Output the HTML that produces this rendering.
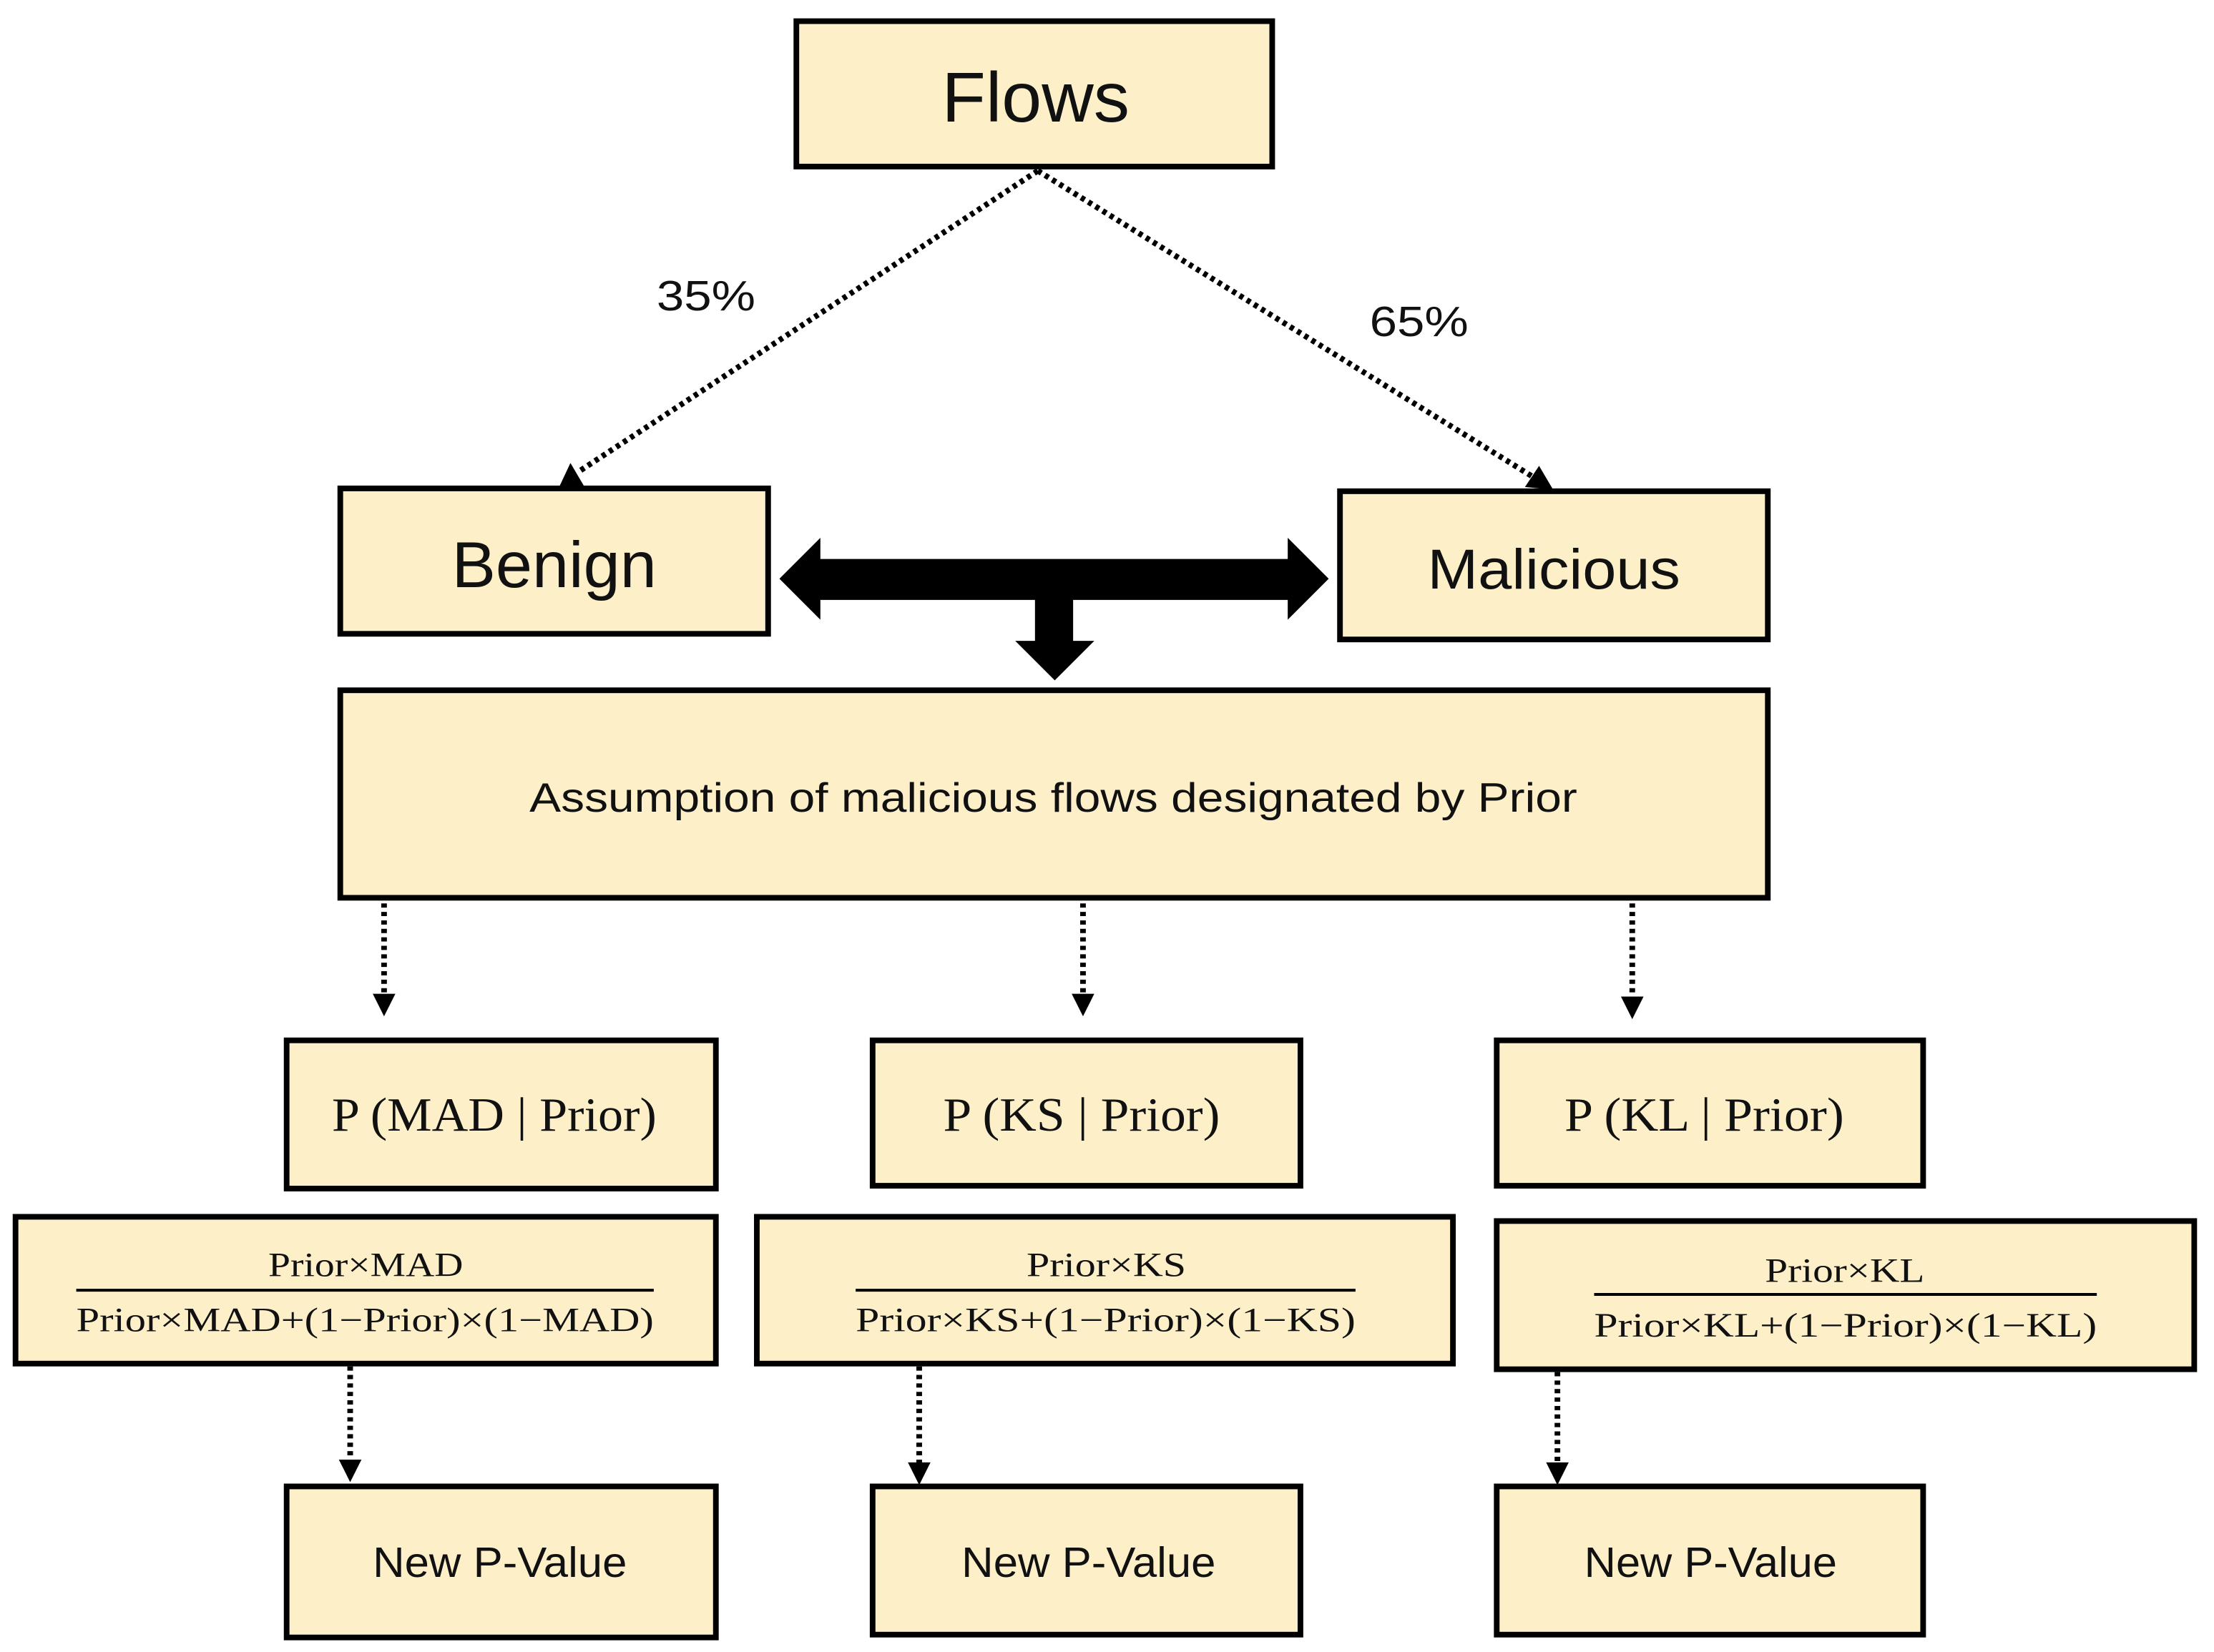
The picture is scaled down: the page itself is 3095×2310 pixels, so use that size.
<!DOCTYPE html>
<html><head><meta charset="utf-8"><style>html,body{margin:0;padding:0;background:#fff}svg{display:block}</style></head><body>
<svg width="3095" height="2310" viewBox="0 0 1568 1170.3" preserveAspectRatio="none" xmlns="http://www.w3.org/2000/svg">
<defs>
<marker id="ah" markerWidth="8" markerHeight="8" refX="6" refY="4" orient="auto" markerUnits="userSpaceOnUse"><path d="M0,0 L8,4 L0,8 z" fill="#000"/></marker>
</defs>
<rect width="1568" height="1171" fill="#fff"/>
<g fill="#fdf0c9" stroke="#000" stroke-width="4">
<rect x="564" y="15" width="337" height="103"/>
<rect x="241" y="346" width="303" height="103"/>
<rect x="949" y="348" width="303" height="105"/>
<rect x="241" y="489" width="1011" height="147"/>
<rect x="203" y="737" width="304" height="105"/>
<rect x="618" y="737" width="303" height="103"/>
<rect x="1060" y="737" width="302" height="103"/>
<rect x="11" y="862" width="496" height="104"/>
<rect x="536" y="862" width="493" height="104"/>
<rect x="1060" y="865" width="494" height="105"/>
<rect x="203" y="1053" width="304" height="107"/>
<rect x="618" y="1053" width="303" height="105"/>
<rect x="1060" y="1053" width="302" height="105"/>
</g>
<g stroke="#000" stroke-width="4" stroke-dasharray="3,3" fill="none">
<line x1="735" y1="121" x2="410" y2="334"/>
<line x1="735" y1="121" x2="1086" y2="338"/>
<line x1="272" y1="640" x2="272" y2="706"/>
<line x1="767" y1="640" x2="767" y2="706"/>
<line x1="1156" y1="640" x2="1156" y2="708"/>
<line x1="248" y1="968" x2="248" y2="1036"/>
<line x1="651" y1="968" x2="651" y2="1038"/>
<line x1="1103" y1="972" x2="1103" y2="1038"/>
</g>
<g fill="#000">
<path d="M396,345 L404,328 L414,345 z"/>
<path d="M1080,345 L1090,330 L1100,347 z"/>
<path d="M264,704 L280,704 L272,720 z"/>
<path d="M759,704 L775,704 L767,720 z"/>
<path d="M1148,706 L1164,706 L1156,722 z"/>
<path d="M240,1034 L256,1034 L248,1050 z"/>
<path d="M643,1036 L659,1036 L651,1052 z"/>
<path d="M1095,1036 L1111,1036 L1103,1052 z"/>
<path d="M552,410 L581,381 L581,396 L912,396 L912,381 L941,410 L912,439 L912,425 L760,425 L760,454 L775,454 L747,482 L719,454 L733,454 L733,425 L581,425 L581,439 z"/>
</g>
<g font-family="'Liberation Sans', sans-serif" fill="#111">
<text x="667" y="86" font-size="50" textLength="133" lengthAdjust="spacingAndGlyphs">Flows</text>
<text x="320" y="416" font-size="46" textLength="145" lengthAdjust="spacingAndGlyphs">Benign</text>
<text x="1011" y="417" font-size="40" textLength="179" lengthAdjust="spacingAndGlyphs">Malicious</text>
<text x="465" y="220" font-size="30" textLength="70" lengthAdjust="spacingAndGlyphs">35%</text>
<text x="970" y="238" font-size="30" textLength="70" lengthAdjust="spacingAndGlyphs">65%</text>
<text x="375" y="575" font-size="29" textLength="742" lengthAdjust="spacingAndGlyphs">Assumption of malicious flows designated by Prior</text>
<text x="264" y="1117" font-size="30" textLength="180" lengthAdjust="spacingAndGlyphs">New P-Value</text>
<text x="681" y="1117" font-size="30" textLength="180" lengthAdjust="spacingAndGlyphs">New P-Value</text>
<text x="1122" y="1117" font-size="30" textLength="179" lengthAdjust="spacingAndGlyphs">New P-Value</text>
</g>
<g font-family="'Liberation Serif', serif" fill="#111">
<text x="235" y="801" font-size="34" textLength="230" lengthAdjust="spacingAndGlyphs">P (MAD | Prior)</text>
<text x="668" y="801" font-size="34" textLength="196" lengthAdjust="spacingAndGlyphs">P (KS | Prior)</text>
<text x="1108" y="801" font-size="34" textLength="198" lengthAdjust="spacingAndGlyphs">P (KL | Prior)</text>
<text x="190" y="904" font-size="24" textLength="138" lengthAdjust="spacingAndGlyphs">Prior×MAD</text>
<text x="54" y="943" font-size="24" textLength="409" lengthAdjust="spacingAndGlyphs">Prior×MAD+(1−Prior)×(1−MAD)</text>
<text x="727" y="904" font-size="24" textLength="113" lengthAdjust="spacingAndGlyphs">Prior×KS</text>
<text x="606" y="943" font-size="24" textLength="354" lengthAdjust="spacingAndGlyphs">Prior×KS+(1−Prior)×(1−KS)</text>
<text x="1250" y="908" font-size="24" textLength="113" lengthAdjust="spacingAndGlyphs">Prior×KL</text>
<text x="1129" y="947" font-size="24" textLength="356" lengthAdjust="spacingAndGlyphs">Prior×KL+(1−Prior)×(1−KL)</text>
</g>
<g stroke="#000" stroke-width="2">
<line x1="54" y1="914" x2="463" y2="914"/>
<line x1="606" y1="914" x2="960" y2="914"/>
<line x1="1129" y1="917" x2="1485" y2="917"/>
</g>
</svg>
</body></html>
